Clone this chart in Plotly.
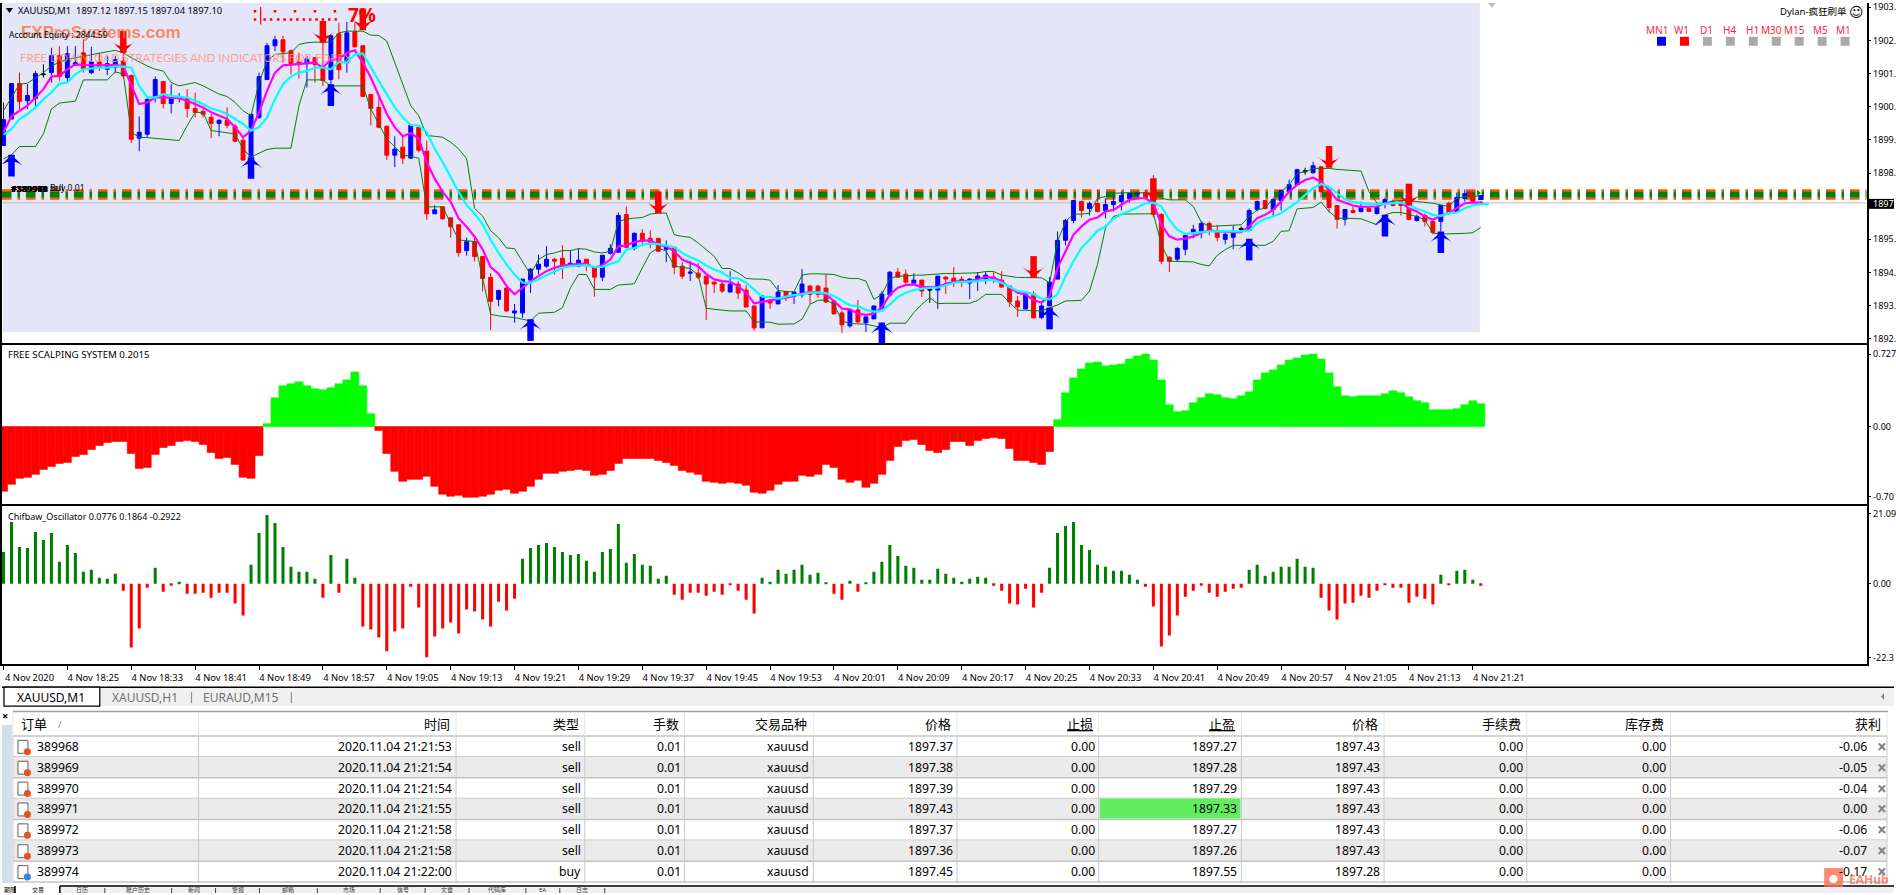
import plotly.graph_objects as go

W, H = 1896, 895
# Price readings are stored as integer steps of 0.011 above a reference price.
REF_STEP = 710
REF_PRICE = 1897.10
STEP = 0.011

open_s = [883,963,1070,1018,1025,1099,1103,1154,1088,1125,1163,1103,1136,1113,1118,1138,1094,905,917,1028,1076,1010,1025,1028,995,986,968,950,959,941,899,848,968,1082,1184,1202,1169,1136,1130,1148,1118,1082,1220,1133,1226,1184,1037,998,941,854,878,845,938,866,677,698,665,644,566,593,548,485,419,453,378,378,477,510,519,540,543,519,519,540,516,486,558,561,675,573,618,603,603,570,576,519,498,498,489,471,465,441,465,447,399,333,417,405,443,429,432,459,459,453,414,378,339,387,348,360,390,432,501,495,468,477,450,447,486,483,480,468,480,480,486,477,459,414,390,435,364,399,480,597,657,714,693,708,687,705,714,723,736,741,738,675,546,540,570,618,624,648,624,600,606,633,627,690,717,690,717,744,765,807,801,819,744,702,660,687,684,693,678,708,714,714,693,657,672,654,654,709,684,723,726,712]
high_s = [1013,1070,1103,1068,1108,1128,1178,1183,1183,1183,1203,1181,1163,1153,1153,1228,1098,971,1028,1091,1076,1068,1041,1053,1043,998,978,963,998,948,908,977,1103,1193,1214,1214,1173,1163,1153,1148,1193,1218,1253,1256,1253,1184,1037,1028,943,911,913,944,938,898,703,698,665,644,605,605,548,498,446,464,405,480,513,554,579,544,582,567,573,540,519,552,585,681,699,621,630,627,603,597,579,531,534,528,489,474,474,504,474,462,399,432,419,462,444,441,510,462,462,495,414,384,387,417,366,399,444,504,513,509,498,477,450,489,489,516,489,483,501,504,501,504,459,429,435,444,414,486,624,662,717,717,714,750,724,729,744,741,744,749,794,679,549,576,612,644,654,654,644,624,642,639,693,717,717,720,749,780,813,816,834,819,744,702,690,699,714,699,699,726,720,714,696,675,678,654,702,714,741,750,729,715]
low_s = [883,963,993,993,993,1088,1073,1078,1073,1123,1103,1098,1108,1095,1103,1085,890,866,908,1013,995,980,1013,968,968,968,905,911,935,893,838,843,963,1081,1168,1133,1098,1085,1058,1073,1063,1063,1083,1103,1178,1031,944,935,839,818,827,843,863,659,677,659,605,548,551,533,443,326,398,381,349,363,438,494,514,494,480,519,516,504,427,474,554,559,576,567,579,573,564,531,495,480,474,480,357,438,438,441,420,396,324,333,390,405,414,405,424,405,424,408,375,318,333,348,321,360,390,426,486,459,465,426,408,390,435,456,456,420,444,465,468,453,396,366,390,363,359,399,480,582,648,666,672,681,663,684,687,711,729,724,666,525,501,534,552,603,603,612,594,585,570,624,624,684,690,669,687,744,762,795,798,726,681,633,642,678,681,684,675,693,699,672,657,654,639,615,624,675,684,714,711,704]
close_s = [961,1070,1016,1034,1100,1097,1154,1091,1160,1133,1113,1136,1121,1130,1142,1093,902,923,1022,1082,1010,1028,1031,995,983,977,950,959,944,896,839,977,1091,1184,1202,1166,1130,1127,1145,1127,1079,1214,1112,1223,1181,1031,995,938,854,872,845,944,869,677,689,662,638,560,593,548,482,413,446,384,384,480,510,525,540,534,519,528,537,522,486,552,573,672,576,618,594,591,564,576,516,489,501,486,465,465,444,465,438,396,333,429,408,441,429,441,465,434,434,411,375,342,387,351,366,399,435,501,486,471,477,444,447,489,480,474,474,480,489,492,483,456,411,396,435,363,399,471,597,657,717,687,708,684,705,714,732,738,741,729,675,534,534,573,612,630,648,627,606,615,624,630,687,714,693,720,747,765,810,804,822,744,696,660,690,681,696,684,696,720,702,702,660,669,654,621,702,678,726,738,714,710]
doji_bars = [5,116,155,163]

fast_ma = [923,971,988,1003,1028,1053,1091,1093,1113,1128,1126,1125,1125,1126,1126,1123,1063,1008,1013,1028,1028,1028,1026,1018,1008,998,983,973,963,938,908,928,983,1048,1103,1125,1127,1128,1130,1133,1118,1143,1143,1163,1170,1133,1088,1033,978,938,911,921,903,833,783,743,713,663,638,608,570,516,496,459,434,454,474,489,504,514,521,524,526,527,514,522,539,579,582,592,596,597,584,579,564,539,529,519,496,479,474,472,459,439,407,411,414,419,424,429,437,440,440,434,414,391,389,376,372,376,394,434,454,462,464,456,457,457,466,472,474,474,479,487,484,474,454,439,434,416,409,429,514,564,614,639,659,666,684,689,704,719,724,724,709,644,609,599,602,609,619,627,624,622,622,622,639,664,674,689,714,744,764,779,786,774,749,719,711,702,698,698,699,709,711,711,694,684,669,659,672,679,694,709,711,711]
slow_ma = [916,933,963,978,998,1023,1043,1070,1073,1098,1113,1116,1118,1118,1121,1121,1118,1063,1028,1028,1038,1033,1031,1028,1018,1008,995,988,978,963,948,928,938,968,1023,1068,1091,1103,1108,1118,1118,1113,1135,1133,1158,1161,1118,1078,1038,998,968,945,943,923,873,833,788,743,703,678,645,599,559,524,494,469,469,479,492,504,514,519,521,522,517,517,526,534,569,574,584,587,586,582,576,559,546,536,521,509,499,484,482,469,449,427,426,421,427,432,434,439,440,438,429,414,401,399,387,382,384,404,426,439,447,451,454,454,461,469,471,472,474,477,477,469,456,444,441,434,421,419,434,489,534,574,599,626,639,662,676,686,696,709,711,699,659,629,616,619,622,624,624,624,624,624,627,649,662,669,679,696,712,734,754,767,759,739,721,712,709,707,706,706,709,711,704,692,684,674,671,679,681,694,702,706,707]
upper_band = [988,1028,1068,1071,1088,1103,1123,1135,1143,1148,1153,1158,1163,1166,1170,1163,1148,1135,1123,1113,1108,1073,1063,1068,1073,1063,1051,1038,1031,1013,988,973,1073,1138,1158,1161,1163,1188,1193,1195,1195,1195,1223,1228,1228,1228,1216,1215,1198,1133,1063,1003,973,913,911,908,893,873,843,693,670,626,605,574,572,534,494,539,554,559,566,566,572,570,562,559,564,654,661,664,666,676,679,679,614,609,606,589,569,549,512,512,499,482,480,480,477,446,442,442,492,496,496,496,494,486,482,482,474,419,434,482,489,489,492,492,494,496,497,497,497,498,499,503,503,492,488,485,485,485,484,469,594,654,676,676,679,724,729,739,741,741,741,741,739,724,719,719,719,699,652,639,640,642,644,644,669,689,694,724,744,764,799,804,814,814,814,811,810,809,806,744,709,709,716,717,717,714,712,709,704,699,724,729,730,731]
lower_band = [843,855,880,880,880,918,993,1011,1015,1017,1081,1081,1081,1081,1105,1099,923,908,907,905,903,901,898,943,983,983,928,925,922,918,873,848,860,871,875,875,875,1003,1081,1081,1081,1063,1063,1063,1063,1063,993,948,903,879,855,850,845,698,698,698,648,598,596,593,483,374,369,367,364,359,354,377,379,380,394,454,494,494,449,449,449,462,464,466,514,559,574,564,519,516,512,492,392,389,386,384,384,384,351,351,350,344,344,345,359,404,416,417,404,354,346,346,344,339,334,347,347,347,379,404,424,406,407,407,407,407,416,434,434,434,409,386,386,386,384,393,402,414,415,416,444,524,634,669,676,677,677,677,677,584,534,534,534,532,524,520,552,569,582,582,582,582,582,594,624,626,692,694,696,712,684,664,664,663,662,653,644,674,681,681,674,669,659,619,616,616,617,618,620,636]

up_bars = [1,31,41,66,110,131,156,173,180]
up_tips = [855,848,1068,359,349,394,602,674,624]
down_bars = [15,40,45,82,129,144,166,176]
down_tips = [1163,1193,1231,679,484,719,816,702]

level_top = 747
level_mid = 735
level_low = 723

price_ticks = [1903.59,1902.49,1901.39,1900.29,1899.19,1898.09,1895.89,1894.79,1893.69,1892.59]
price_labels = ["1903.","1902.","1901.","1900.","1899.","1898.","1895.","1894.","1893.","1892."]

scalp_system = [-.65,-.58,-.52,-.51,-.48,-.43,-.40,-.37,-.36,-.30,-.28,-.23,-.19,-.16,-.15,-.15,-.27,-.42,-.41,-.28,-.21,-.19,-.15,-.14,-.15,-.18,-.26,-.32,-.31,-.38,-.51,-.52,-.29,.03,.29,.41,.43,.45,.41,.38,.37,.39,.43,.47,.55,.41,.13,-.04,-.27,-.45,-.55,-.53,-.53,-.50,-.60,-.68,-.70,-.69,-.71,-.71,-.70,-.68,-.64,-.63,-.67,-.65,-.60,-.53,-.47,-.47,-.45,-.44,-.43,-.44,-.49,-.48,-.44,-.37,-.32,-.32,-.32,-.32,-.34,-.36,-.39,-.44,-.46,-.48,-.55,-.56,-.57,-.56,-.57,-.59,-.66,-.67,-.64,-.58,-.55,-.55,-.49,-.50,-.48,-.38,-.41,-.53,-.56,-.54,-.61,-.57,-.48,-.34,-.20,-.14,-.13,-.18,-.24,-.26,-.23,-.15,-.15,-.19,-.14,-.12,-.11,-.12,-.22,-.34,-.34,-.36,-.38,-.25,.07,.34,.49,.58,.64,.65,.61,.62,.63,.68,.71,.73,.67,.47,.22,.15,.16,.24,.29,.33,.32,.29,.28,.31,.35,.47,.54,.57,.62,.67,.69,.72,.73,.68,.54,.40,.31,.30,.31,.31,.31,.33,.36,.34,.30,.26,.24,.17,.17,.17,.18,.22,.26,.23]
oscillator = [9.6,18.6,11.1,10.8,15.6,13.2,15.3,6.6,11.7,9.3,3.6,4.2,1.8,1.5,3.0,-2.1,-19.2,-13.5,-1.2,4.8,-2.4,-.6,.6,-3.0,-3.0,-2.7,-4.2,-2.7,-2.7,-6.0,-9.6,5.7,15.3,20.7,18.3,11.1,5.1,3.6,3.6,1.5,-4.2,8.7,-2.7,7.5,1.8,-12.9,-13.8,-16.2,-20.4,-14.4,-13.5,-.9,-7.2,-22.2,-15.9,-13.5,-11.7,-15.0,-7.8,-8.4,-10.8,-12.9,-5.4,-8.1,-4.5,7.5,10.8,11.7,12.3,11.1,9.6,8.7,9.0,6.9,3.6,9.6,10.5,18.0,6.3,9.0,5.7,5.4,1.5,2.4,-3.3,-4.8,-2.7,-2.7,-3.6,-2.4,-3.3,-.3,-2.1,-4.8,-9.0,1.8,.6,4.2,3.0,4.2,5.7,2.7,3.3,.3,-3.0,-4.8,.9,-2.4,.3,3.6,6.6,11.7,8.4,5.4,4.8,1.2,1.2,4.5,3.0,1.8,.6,1.5,2.1,1.8,-.6,-2.1,-6.0,-6.3,-1.5,-7.2,-2.7,4.8,15.3,17.4,18.6,11.7,10.2,5.7,5.1,3.9,3.9,2.7,1.2,-.9,-6.9,-18.9,-15.6,-9.6,-3.9,-2.1,-.6,-2.7,-3.9,-2.4,-1.5,-1.2,4.2,5.7,2.4,3.6,5.1,5.1,7.5,5.1,4.8,-4.2,-8.1,-10.8,-6.0,-5.7,-3.6,-4.2,-2.1,-.3,-1.2,-1.2,-5.7,-3.9,-4.5,-6.3,2.7,-.3,3.9,4.2,1.2,-.6]

time_tick_bars = [0,8,16,24,32,40,48,56,64,72,80,88,96,104,112,120,128,136,144,152,160,168,176,184]
time_tick_labels = ["4 Nov 2020","4 Nov 18:25","4 Nov 18:33","4 Nov 18:41","4 Nov 18:49","4 Nov 18:57","4 Nov 19:05","4 Nov 19:13","4 Nov 19:21","4 Nov 19:29","4 Nov 19:37","4 Nov 19:45","4 Nov 19:53","4 Nov 20:01","4 Nov 20:09","4 Nov 20:17","4 Nov 20:25","4 Nov 20:33","4 Nov 20:41","4 Nov 20:49","4 Nov 20:57","4 Nov 21:05","4 Nov 21:13","4 Nov 21:21"]

frames = ["MN1","W1","D1","H4","H1","M30","M15","M5","M1"]
frame_colors = ["#0000FF","#FF0000","#A9A9A9","#A9A9A9","#A9A9A9","#A9A9A9","#A9A9A9","#A9A9A9","#A9A9A9"]

tbl_order = ["389968","389969","389970","389971","389972","389973","389974"]
tbl_time = ["2020.11.04 21:21:53","2020.11.04 21:21:54","2020.11.04 21:21:54","2020.11.04 21:21:55","2020.11.04 21:21:58","2020.11.04 21:21:58","2020.11.04 21:22:00"]
tbl_type = ["sell","sell","sell","sell","sell","sell","buy"]
tbl_lots = ["0.01"]*7
tbl_symbol = ["xauusd"]*7
tbl_price = ["1897.37","1897.38","1897.39","1897.43","1897.37","1897.36","1897.45"]
tbl_sl = ["0.00"]*7
tbl_tp = ["1897.27","1897.28","1897.29","1897.33","1897.27","1897.26","1897.55"]
tbl_now = ["1897.43","1897.43","1897.43","1897.43","1897.43","1897.43","1897.28"]
tbl_fee = ["0.00"]*7
tbl_swap = ["0.00"]*7
tbl_profit = ["-0.06","-0.05","-0.04","0.00","-0.06","-0.07","-0.17"]
tbl_headers = ["时间","类型","手数","交易品种","价格","<u>止损</u>","<u>止盈</u>","价格","手续费","库存费","获利"]

bottom_tabs = ["日历","账户历史","新闻","警报","邮箱","市场","信号","文章","代码库","EA","日志"]


def price(steps):
    return [REF_PRICE + (s - REF_STEP) * STEP for s in steps]


def px(x):
    return x / W


def py(y):
    return 1 - y / H


FONT = "Noto Sans, Noto Sans CJK SC, sans-serif"
fig = go.Figure()
bars = list(range(len(open_s)))
keep = [i for i in bars if i not in doji_bars]


def pick(arr, idx):
    return [arr[i] for i in idx]


shapes = []
shapes.append(dict(type="rect", xref="paper", yref="paper", x0=px(1), x1=px(1481), y0=py(331), y1=py(0),
                   fillcolor="#E5E5F8", line_width=0, layer="below"))
for lvl, col, wd in [(level_top, "#FF5500", 2.5), (level_low, "#FF5500", 2.5), (level_mid, "#008000", 6)]:
    v = price([lvl])[0]
    shapes.append(dict(type="line", xref="x domain", yref="y", x0=0, x1=1, y0=v, y1=v, layer="below",
                       line=dict(color=col, width=wd, dash="9.5px,6px,2.5px,6px")))
shapes.append(dict(type="line", xref="x domain", yref="y", x0=0, x1=1, y0=REF_PRICE, y1=REF_PRICE, layer="below",
                   line=dict(color="#C0C0C0", width=1)))

fig.add_trace(go.Candlestick(x=pick(bars, keep), open=price(pick(open_s, keep)), high=price(pick(high_s, keep)),
                             low=price(pick(low_s, keep)), close=price(pick(close_s, keep)),
                             increasing=dict(line=dict(color="#0000FF", width=1), fillcolor="#0000FF"),
                             decreasing=dict(line=dict(color="#FF0000", width=1), fillcolor="#FF0000"),
                             whiskerwidth=0, hoverinfo="skip"))
fig.add_trace(go.Candlestick(x=doji_bars, open=price(pick(open_s, doji_bars)), high=price(pick(high_s, doji_bars)),
                             low=price(pick(low_s, doji_bars)), close=price(pick(close_s, doji_bars)),
                             increasing=dict(line=dict(color="#000000", width=1), fillcolor="#000000"),
                             decreasing=dict(line=dict(color="#000000", width=1), fillcolor="#000000"),
                             whiskerwidth=0, hoverinfo="skip"))
for arr, col, wd in [(upper_band, "#008000", 1), (lower_band, "#008000", 1), (fast_ma, "#FF00FF", 2.2), (slow_ma, "#00FFFF", 2.2)]:
    fig.add_trace(go.Scatter(x=list(range(len(arr))), y=price(arr), mode="lines", line=dict(color=col, width=wd), hoverinfo="skip"))

STEM = 0.72
for idx, tips, col, ang, plus, minus in [(up_bars, up_tips, "#0000FF", 0, 0, STEM), (down_bars, down_tips, "#FF0000", 180, STEM, 0)]:
    fig.add_trace(go.Scatter(x=idx, y=price(tips), mode="markers", hoverinfo="skip",
                             marker=dict(symbol="arrow-wide", size=16, angle=ang, color=col, line_width=0),
                             error_y=dict(type="constant", symmetric=False, value=plus, valueminus=minus,
                                          thickness=6.5, width=0, color=col)))

dot_bars = [31.5, 31.5, 32.7, 33.5, 34.0, 34.4, 35.2, 36.0, 36.5, 36.8, 37.6, 38.4, 39.0, 39.2, 40.0, 40.8, 41.5, 41.6]
dot_steps = [1288, 1263, 1263, 1263, 1288, 1263, 1263, 1263, 1288, 1263, 1263, 1263, 1288, 1263, 1263, 1263, 1288, 1263]
fig.add_trace(go.Scatter(x=dot_bars, y=price(dot_steps), mode="markers", hoverinfo="skip",
                         marker=dict(symbol="square", size=2.5, color="#FF0000")))
fig.add_trace(go.Scatter(x=[32.2, 32.2], y=price([1301, 1248]), mode="lines", hoverinfo="skip",
                         line=dict(color="#FF0000", width=1.2)))
fig.add_trace(go.Scatter(x=[183.7, 184.0, 184.7, 185.0], y=price([738, 725, 740, 726]), mode="markers", hoverinfo="skip",
                         marker=dict(symbol=["x", "x", "triangle-right", "square"], size=5, color=["#FF0000", "#FF0000", "#008000", "#0000FF"])))

scalp_colors = ["#00FF00" if v > 0 else "#FF0000" for v in scalp_system]
fig.add_trace(go.Bar(x=list(range(len(scalp_system))), y=scalp_system, width=1, xaxis="x2", yaxis="y2", hoverinfo="skip",
                     marker=dict(color=scalp_colors, line=dict(color=scalp_colors, width=0.6))))
fig.add_trace(go.Bar(x=list(range(len(oscillator))), y=oscillator, width=0.38, xaxis="x3", yaxis="y3", hoverinfo="skip",
                     marker=dict(color=["#008000" if v > 0 else "#FF0000" for v in oscillator], line_width=0)))

xr = [-0.1875, 233.3125]
xdom = [0, 1868.5 / W]
axis_font = dict(family=FONT, size=9.4, color="#000000")
value_font = dict(family=FONT, size=9, color="#000000")
x_common = dict(domain=xdom, range=xr, showgrid=False, zeroline=False, showline=True, linecolor="#000000", linewidth=1.5)
y_common = dict(side="right", showgrid=False, zeroline=False, showline=True, linecolor="#000000", linewidth=1.5,
                mirror=True, ticks="outside", ticklen=3, tickcolor="#000000", tickfont=value_font, fixedrange=True,
                ticklabeloverflow="allow")

annotations = []


def note(x, y, text, size=11, color="#000000", xa="left", ya="middle", family=FONT, **kw):
    annotations.append(dict(x=px(x), y=py(y), xref="paper", yref="paper", text=text, showarrow=False,
                            xanchor=xa, yanchor=ya, align=xa, borderpad=0,
                            font=dict(family=family, size=size, color=color), **kw))


note(15, 8, "XAUUSD,M1&nbsp;&nbsp;1897.12 1897.15 1897.04 1897.10", 9.4)
shapes.append(dict(type="path", xref="paper", yref="paper", layer="above",
                   path=f"M {px(4)},{py(5)} L {px(11)},{py(5)} L {px(7.5)},{py(10)} Z", fillcolor="#000000", line_width=0))
note(18, 30, "FXProSystems.com", 17, "rgba(255,110,60,0.8)", family="Liberation Sans")
annotations[-1]["font"]["weight"] = "bold"
note(6, 32, "Account Equity : 2844.59", 8.6)
note(17, 55, "FREE DOWNLOAD STRATEGIES AND INDICATORS FOR FOREX", 11.5, "rgba(255,150,125,0.85)", family="Lato")
note(361, 12, "7%", 19, "#FF0000", xa="center")
annotations[-1]["font"]["weight"] = "bold"
for order in tbl_order[:6]:
    note(8, 187, "#" + order, 9, "#000000")
    annotations[-1]["font"]["weight"] = "bold"
note(47, 186, "sell", 8.6)
note(47, 186, "Buy 0.01", 8.6)
note(1850, 9, "Dylan-疯狂刷单", 9.5, xa="right")
note(1858, 9, "☺", 14, xa="center", family="DejaVu Sans")
frame_x = [1658, 1683, 1708, 1731, 1754, 1773, 1796, 1822, 1845]
for i, name in enumerate(frames):
    note(frame_x[i], 27, name, 10, "#FF2040", xa="center")
    cx = 1663 + 23 * i
    shapes.append(dict(type="rect", xref="paper", yref="paper", x0=px(cx - 4.5), x1=px(cx + 4.5), y0=py(43), y1=py(34),
                       fillcolor=frame_colors[i], line_width=0))
shapes.append(dict(type="path", xref="paper", yref="paper", fillcolor="#C0C0C0", line_width=0,
                   path=f"M {px(1489)},{py(0)} L {px(1497)},{py(0)} L {px(1493)},{py(5)} Z"))
shapes.append(dict(type="rect", xref="paper", yref="paper", x0=px(1870), x1=1, y0=py(207), y1=py(197), fillcolor="#000000", line_width=0))
note(1873.5, 201.5, "1897.", 9, "#FFFFFF")
note(5, 353, "FREE SCALPING SYSTEM 0.2015", 9.7)
note(5, 516, "Chifbaw_Oscillator 0.0776 0.1864 -0.2922", 9)

shapes.append(dict(type="rect", xref="paper", yref="paper", x0=0, x1=1, y0=py(707), y1=py(688), fillcolor="#F0F0F0", line=dict(width=0)))
shapes.append(dict(type="line", xref="paper", yref="paper", x0=0, x1=1, y0=py(688), y1=py(688), line=dict(color="#000000", width=1.5)))
shapes.append(dict(type="rect", xref="paper", yref="paper", x0=px(2), x1=px(98), y0=py(707), y1=py(688), fillcolor="#FFFFFF", line=dict(color="#000000", width=1.2)))
note(14, 698, "XAUUSD,M1", 12)
note(109, 698, "XAUUSD,H1", 12, "#707070")
note(200, 698, "EURAUD,M15", 12, "#707070")
for sx in (190, 290):
    shapes.append(dict(type="line", xref="paper", yref="paper", x0=px(sx), x1=px(sx), y0=py(693), y1=py(704), line=dict(color="#808080", width=1)))
shapes.append(dict(type="path", xref="paper", yref="paper", fillcolor="#808080", line_width=0,
                   path=f"M {px(1886)},{py(694)} L {px(1886)},{py(701)} L {px(1883)},{py(697.5)} Z"))

cols = [11, 197, 455, 584, 684, 813, 957, 1099, 1242, 1385, 1528, 1672, 1889]
row_top = 737
row_h = 21
table_cols = [tbl_time, tbl_type, tbl_lots, tbl_symbol, tbl_price, tbl_sl, tbl_tp, tbl_now, tbl_fee, tbl_swap, tbl_profit]
shapes.append(dict(type="rect", xref="paper", yref="paper", x0=px(11), x1=1, y0=py(737), y1=py(712), fillcolor="#FFFFFF", line_width=0))
shapes.append(dict(type="line", xref="paper", yref="paper", x0=px(11), x1=px(1890), y0=py(712.5), y1=py(712.5), line=dict(color="#A0A0A0", width=1.5)))
shapes.append(dict(type="rect", xref="paper", yref="paper", x0=0, x1=px(10), y0=py(885), y1=py(726), fillcolor="#D3E0EC", line_width=0))
note(3, 717, "×", 11, xa="center")
annotations[-1]["font"]["weight"] = "bold"
for r in range(len(tbl_order)):
    top = row_top + r * row_h
    if r % 2 == 1:
        shapes.append(dict(type="rect", xref="paper", yref="paper", x0=px(11), x1=px(1889), y0=py(top + row_h), y1=py(top), fillcolor="#EBEBEB", line_width=0))
    shapes.append(dict(type="line", xref="paper", yref="paper", x0=px(11), x1=px(1889), y0=py(top + row_h), y1=py(top + row_h), line=dict(color="#C4C4C4", width=1.5)))
shapes.append(dict(type="line", xref="paper", yref="paper", x0=px(11), x1=px(1889), y0=py(737), y1=py(737), line=dict(color="#C4C4C4", width=1.5)))
shapes.append(dict(type="rect", xref="paper", yref="paper", x0=px(1100), x1=px(1241), y0=py(820), y1=py(800), fillcolor="#61EE5E", line_width=0))
for cx in cols:
    shapes.append(dict(type="line", xref="paper", yref="paper", x0=px(cx), x1=px(cx), y0=py(885), y1=py(737), line=dict(color="#C8C8C8", width=1)))
    shapes.append(dict(type="line", xref="paper", yref="paper", x0=px(cx), x1=px(cx), y0=py(737), y1=py(713), line=dict(color="#E6E6E6", width=1)))
note(18, 725, "订单", 13)
note(55, 726, "/", 9, "#808080")
for c, head in enumerate(tbl_headers):
    note(cols[c + 2] - 5, 725, head, 13, xa="right")
for r in range(len(tbl_order)):
    cy = row_top + r * row_h + 10.5
    note(34, cy, tbl_order[r], 12.2)
    for c, col in enumerate(table_cols):
        right = cols[c + 2] - 3 if c < 10 else 1870
        note(right, cy, col[r], 12.2, xa="right")
    note(1884, cy, "×", 17, "#808080", xa="center")
    annotations[-1]["font"]["weight"] = "bold"
    shapes.append(dict(type="rect", xref="paper", yref="paper", x0=px(16), x1=px(26), y0=py(cy + 7), y1=py(cy - 6), fillcolor="#FFFFFF", line=dict(color="#606060", width=1)))
    dot = "#E8501E" if tbl_type[r] == "sell" else "#2E86DE"
    shapes.append(dict(type="circle", xref="paper", yref="paper", x0=px(22), x1=px(29), y0=py(cy + 9), y1=py(cy + 2), fillcolor=dot, line_width=0))

shapes.append(dict(type="rect", xref="paper", yref="paper", x0=px(58), x1=1, y0=0, y1=py(888), fillcolor="#F0F0F0", line_width=0))
shapes.append(dict(type="line", xref="paper", yref="paper", x0=px(58), x1=1, y0=py(888), y1=py(888), line=dict(color="#000000", width=1.5)))
shapes.append(dict(type="line", xref="paper", yref="paper", x0=px(13), x1=px(13), y0=0, y1=py(888), line=dict(color="#000000", width=1.5)))
shapes.append(dict(type="line", xref="paper", yref="paper", x0=px(58), x1=px(58), y0=0, y1=py(888), line=dict(color="#000000", width=1.5)))
note(1, 891, "期限", 6, family="Noto Sans CJK SC")
note(36, 891.5, "交易", 6, xa="center")
sep = [58, 103, 170, 214, 258, 316, 379, 424, 468, 525, 559, 604]
for i, name in enumerate(bottom_tabs):
    note((sep[i] + sep[i + 1]) / 2, 891.5, name, 6, "#404040", xa="center")
    shapes.append(dict(type="line", xref="paper", yref="paper", x0=px(sep[i + 1]), x1=px(sep[i + 1]), y0=0, y1=py(890), line=dict(color="#404040", width=1)))

shapes.append(dict(type="rect", xref="paper", yref="paper", x0=px(1826), x1=px(1845), y0=py(889), y1=py(870), fillcolor="rgba(250,110,80,0.8)", line_width=0))
note(1835.5, 880, "●", 9, "#FFFFFF", xa="center")
note(1850, 881, "EAHub", 12, "rgba(250,110,80,0.8)")
annotations[-1]["font"]["weight"] = "bold"

fig.update_layout(
    width=W, height=H, margin=dict(l=0, r=0, t=0, b=0), paper_bgcolor="#FFFFFF", plot_bgcolor="rgba(0,0,0,0)",
    showlegend=False, hovermode=False, barmode="overlay", shapes=shapes, annotations=annotations,
    xaxis=dict(**x_common, anchor="y", showticklabels=False, rangeslider=dict(visible=False)),
    xaxis2=dict(**x_common, anchor="y2", showticklabels=False, mirror=True),
    xaxis3=dict(**x_common, anchor="y3", mirror=True, tickmode="array", tickvals=time_tick_bars, ticktext=time_tick_labels,
                ticks="outside", ticklen=4, tickcolor="#000000", tickfont=axis_font, ticklabelshift=26, tickangle=0),
    yaxis=dict(**y_common, anchor="x", domain=[py(342), py(0)], tickmode="array", tickvals=price_ticks, ticktext=price_labels,
               range=[REF_PRICE - 423 * STEP, REF_PRICE + 603 * STEP]),
    yaxis2=dict(**y_common, anchor="x2", domain=[py(504), py(344)], tickmode="array", tickvals=[0.727, 0, -0.707],
                ticktext=["0.727", "0.00", "-0.70"], range=[-0.78, 0.82]),
    yaxis3=dict(**y_common, anchor="x3", domain=[py(665), py(506)], tickmode="array", tickvals=[21.09, 0, -22.31],
                ticktext=["21.09", "0.00", "-22.3"], range=[-24.3, 23.4]),
)

CLIP_PAGE = "document.documentElement.style.overflow='hidden';document.body.style.margin='0';document.body.style.overflow='hidden';"
fig.write_html("out.html", config={"displayModeBar": False}, post_script=CLIP_PAGE)
